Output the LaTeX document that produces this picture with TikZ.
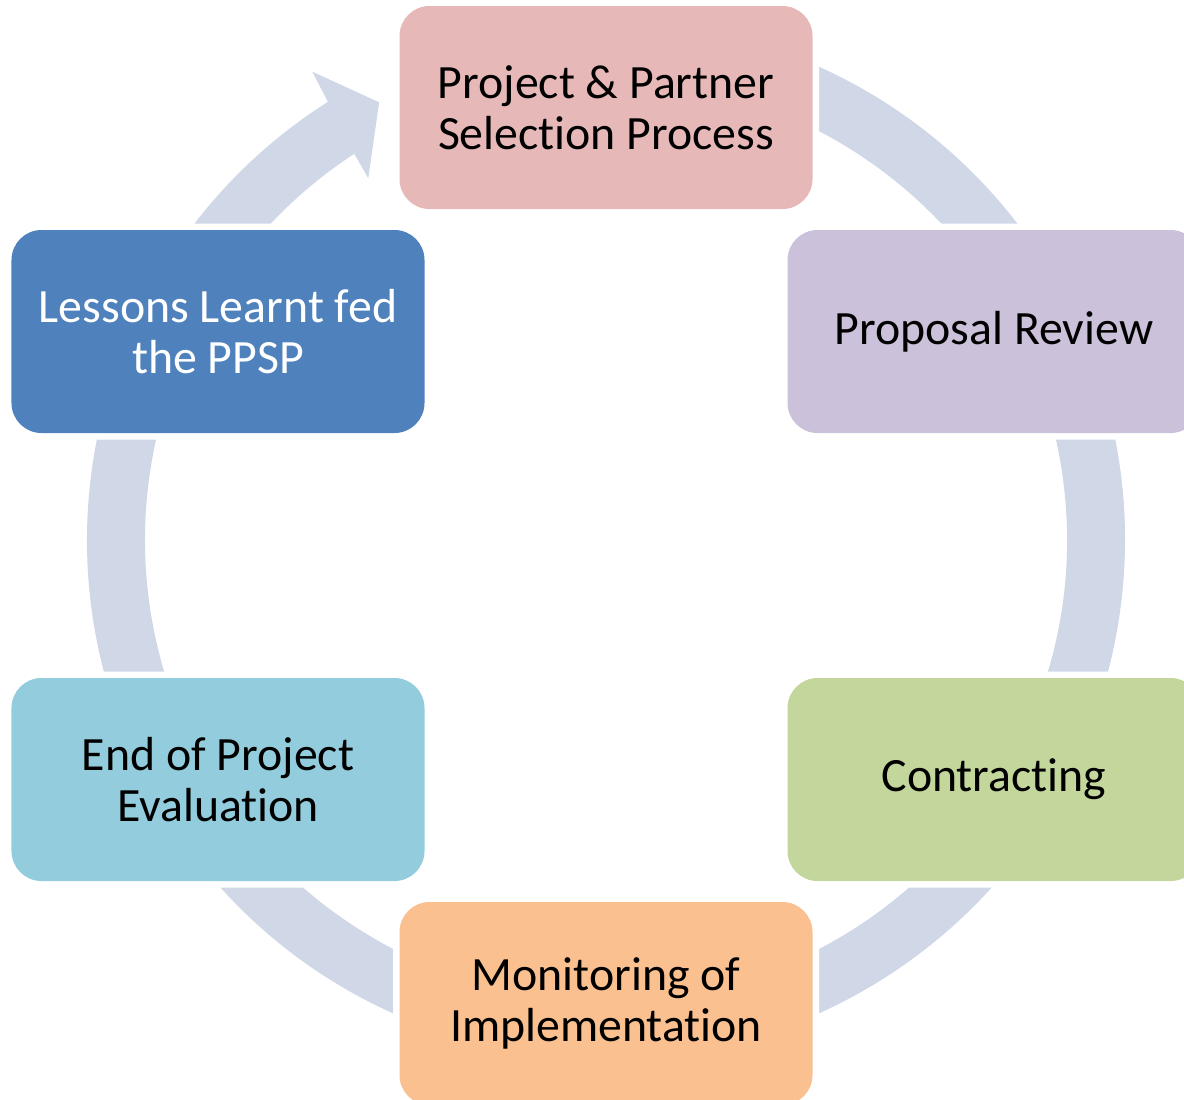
\documentclass[tikz,border=0pt]{standalone}
\usepackage{fontspec}
\setmainfont[Ligatures=NoCommon]{Carlito}
\usetikzlibrary{positioning}
\definecolor{ringblue}{HTML}{D0D8E8}
\definecolor{pinkbox}{HTML}{E6B9B8}
\definecolor{lilacbox}{HTML}{CCC1DA}
\definecolor{greenbox}{HTML}{C3D69B}
\definecolor{orangebox}{HTML}{FAC090}
\definecolor{aquabox}{HTML}{93CDDD}
\definecolor{bluebox}{HTML}{4F81BD}
\tikzset{
	stage/.style={
		rectangle,
		rounded corners=0.3cm,
		minimum width=4.13cm,
		minimum height=2.03cm,
		inner sep=0pt,
		outer sep=0pt,
		align=center,
		font=\fontsize{13.6}{14.6}\selectfont,
		preaction={draw=white, line width=0.13cm}
	}
}

\begin{document}
\begin{tikzpicture}
		\tikzstyle{ring}=[fill=ringblue]
		\useasboundingbox (0,0) rectangle (11.84,-10.99);
		\coordinate (c) at (6.06,-5.40);
		
		% the ring and its arrow head, one outline
		\begin{scope}[shift={(c)}]
		\fill[ring] (122.4:5.19) arc[start angle=122.4, end angle=460, radius=5.19]
			-- (460:4.61) arc[start angle=460, end angle=123.1, radius=4.61]
			-- (123.3:4.33) -- (117.4:4.93) -- (122.1:5.53) -- cycle;
		\end{scope}
		
		\node[stage, fill = pinkbox]   (select) at (6.06,-1.075) {Project \& Partner\\Selection Process};
		\node[stage, fill = lilacbox]  (review) [below right=0.21cm and -0.25cm of select] {Proposal Review};
		\node[stage, fill = bluebox, text=white] (lessons) [below left=0.21cm and -0.25cm of select] {Lessons Learnt fed\\the PPSP};
		\node[stage, fill = greenbox]  (contract) [below=2.45cm of review] {Contracting};
		\node[stage, fill = aquabox]   (evaluate) [below=2.45cm of lessons] {End of Project\\Evaluation};
		\node[stage, fill = orangebox] (monitor) [below right=0.21cm and -0.25cm of evaluate] {Monitoring of\\Implementation};
		
\end{tikzpicture}
\end{document}
